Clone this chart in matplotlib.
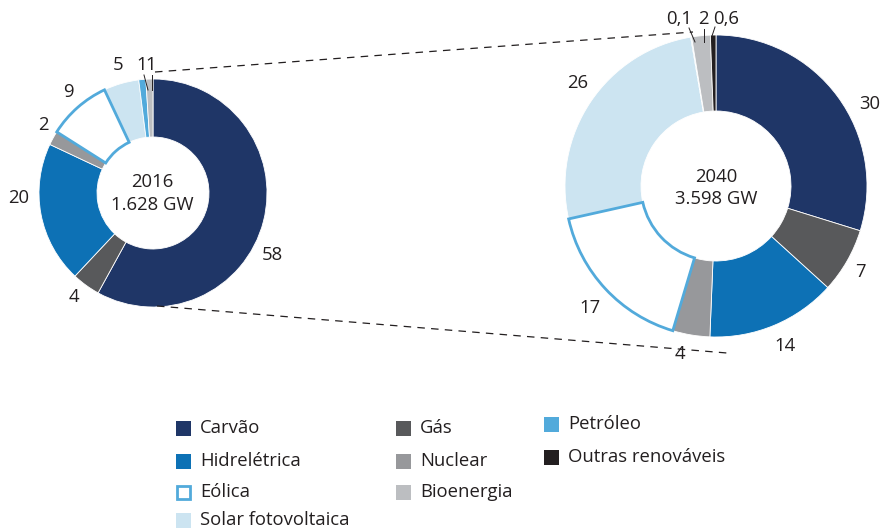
import matplotlib.pyplot as plt

plt.rcParams['font.family'] = ['Open Sans', 'DejaVu Sans']

# data (percent of installed capacity)
categories = ["Carvão", "Gás", "Hidrelétrica", "Nuclear", "Eólica",
              "Solar fotovoltaica", "Petróleo", "Bioenergia", "Outras renováveis"]
share_2016 = [58, 4, 20, 2, 9, 5, 1, 1, 0]
share_2040 = [30, 7, 14, 4, 17, 26, 0.1, 2, 0.6]
labels_2016 = ["58", "4", "20", "2", "9", "5", "1", "1", ""]
labels_2040 = ["30", "7", "14", "4", "17", "26", "0,1", "2", "0,6"]
center_2016 = ["2016", "1.628 GW"]
center_2040 = ["2040", "3.598 GW"]

colors = {
    "Carvão": "#1f3667",
    "Gás": "#58595b",
    "Hidrelétrica": "#0d71b5",
    "Nuclear": "#97989b",
    "Eólica": "white",
    "Solar fotovoltaica": "#cce4f1",
    "Petróleo": "#52aadb",
    "Bioenergia": "#bcbec1",
    "Outras renováveis": "#231f20",
}
wind_edge = "#52aadb"
txt = "#231f20"
fs = 13.3

# label anchors in pixel space (x, y from top)
pos_2016 = [(272, 255), (74, 297), (19, 198), (43, 125), (68, 92),
            (118, 65), (142, 65), (151, 65), None]
pos_2040 = [(870, 104), (860, 272), (785, 346), (680, 354), (590, 308),
            (578, 83), (679, 19), (703, 19), (726, 19)]

fig = plt.figure(figsize=(8.81, 5.29), dpi=100)
ax = fig.add_axes([0, 0, 1, 1])


def donut(values, center, radius, width):
    cats = [c for c, v in zip(categories, values) if v > 0]
    vals = [v for v in values if v > 0]
    wedges, _ = ax.pie(vals, colors=[colors[c] for c in cats], center=center,
                       radius=radius, startangle=-90, counterclock=True,
                       wedgeprops=dict(width=width, edgecolor="white", linewidth=0.6))
    for w, c in zip(wedges, cats):
        if c == "Eólica":
            w.set_edgecolor(wind_edge)
            w.set_linewidth(2)
            w.set_zorder(3)


donut(share_2016, (153, 193), 114, 58)
donut(share_2040, (716, 186), 151, 76)

for lab, p in zip(labels_2016, pos_2016):
    if p is not None and lab:
        ax.text(p[0], p[1], lab, ha="center", va="center", fontsize=fs, color=txt)
for lab, p in zip(labels_2040, pos_2040):
    ax.text(p[0], p[1], lab, ha="center", va="center", fontsize=fs, color=txt)

ax.text(152, 182, center_2016[0], ha="center", va="center", fontsize=fs, color=txt)
ax.text(152, 205, center_2016[1], ha="center", va="center", fontsize=fs, color=txt)
ax.text(716, 177, center_2040[0], ha="center", va="center", fontsize=fs, color=txt)
ax.text(716, 199, center_2040[1], ha="center", va="center", fontsize=fs, color=txt)

# leader lines for the thin slices
ax.plot([144, 148], [75, 90], color=txt, lw=0.7)
ax.plot([152, 152], [75, 90], color=txt, lw=0.7)
ax.plot([689, 695], [28, 42], color=txt, lw=0.7)
ax.plot([704, 704], [29, 42], color=txt, lw=0.7)
ax.plot([715, 712], [27, 36], color=txt, lw=0.7)

# dashed connectors between the two donuts
ax.plot([155, 693], [72, 32], color=txt, lw=0.9, ls=(0, (6, 5)))
ax.plot([157, 727], [306, 353], color=txt, lw=0.9, ls=(0, (6, 5)))

# legend, drawn by hand in three columns
legend_cols = [
    (["Carvão", "Hidrelétrica", "Eólica", "Solar fotovoltaica"], 183, [428, 461, 492, 520]),
    (["Gás", "Nuclear", "Bioenergia"], 403, [428, 461, 492]),
    (["Petróleo", "Outras renováveis"], 551, [424, 457]),
]
for names, x, ys in legend_cols:
    for name, y in zip(names, ys):
        if name == "Eólica":
            ax.add_patch(plt.Rectangle((x - 6.5, y - 6.5), 13, 13, facecolor="white",
                                       edgecolor=wind_edge, lw=2))
        else:
            ax.add_patch(plt.Rectangle((x - 7.5, y - 7.5), 15, 15,
                                       facecolor=colors[name], edgecolor="none"))
        ax.text(x + 17, y, name, ha="left", va="center", fontsize=fs, color=txt)

ax.set_xlim(0, 881)
ax.set_ylim(529, 0)
ax.set_aspect("equal")
ax.axis("off")

fig.savefig("out.png", dpi=100)
